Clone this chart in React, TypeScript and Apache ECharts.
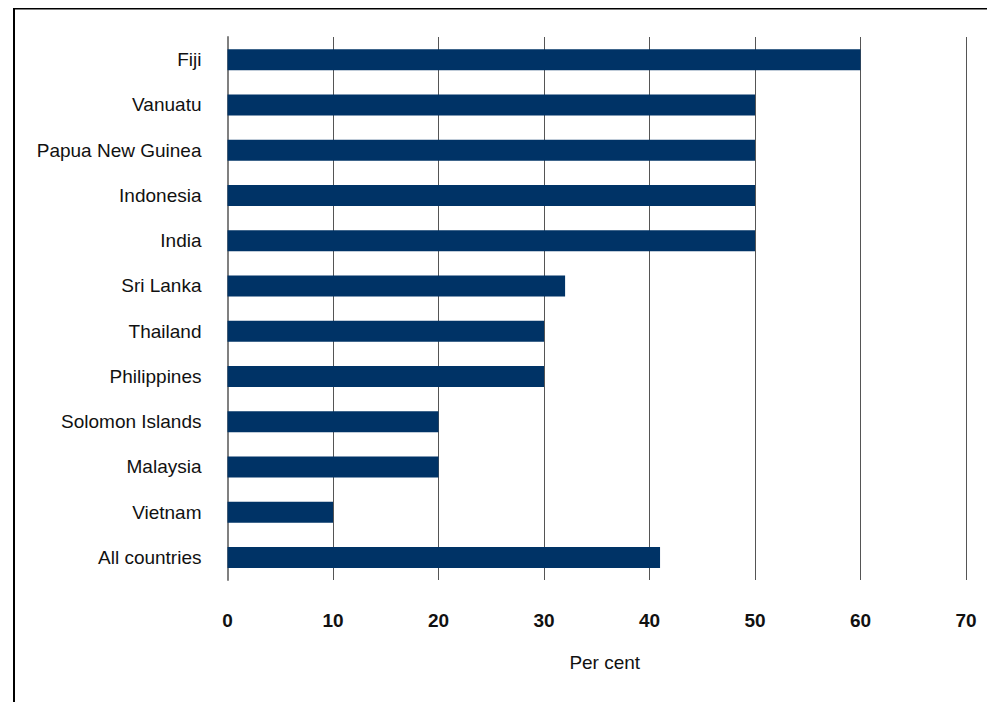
import React, { useEffect, useRef } from "react";
import * as echarts from "echarts";

const categories = [
  "Fiji",
  "Vanuatu",
  "Papua New Guinea",
  "Indonesia",
  "India",
  "Sri Lanka",
  "Thailand",
  "Philippines",
  "Solomon Islands",
  "Malaysia",
  "Vietnam",
  "All countries",
];
const values = [60, 50, 50, 50, 50, 32, 30, 30, 20, 20, 10, 41];
const xTicks = { min: 0, max: 70, interval: 10 };
const axisName = "Per cent";

const FONT = "'Liberation Sans Narrow', 'Arial Narrow', 'Liberation Sans', Arial, sans-serif";

export default function App() {
  const ref = useRef<HTMLDivElement>(null);
  useEffect(() => {
    if (!ref.current) return;
    const chart = echarts.init(ref.current, null, { renderer: "svg" });
    chart.setOption({
      animation: false,
      grid: { left: 219.5, right: 29, top: 29, bottom: 122, containLabel: false },
      xAxis: {
        type: "value",
        min: xTicks.min,
        max: xTicks.max,
        interval: xTicks.interval,
        position: "bottom",
        axisLine: { show: false },
        axisTick: { show: false },
        splitLine: { show: true, lineStyle: { color: "#555555", width: 1 } },
        axisLabel: {
          margin: 31,
          fontFamily: FONT,
          fontSize: 19,
          fontWeight: "bold",
          color: "#111",
        },
        name: axisName,
        nameLocation: "middle",
        nameGap: 73,
        nameTextStyle: { fontFamily: FONT, fontSize: 19, color: "#111", padding: [0, 0, 0, 16] },
      },
      yAxis: {
        type: "category",
        data: categories,
        inverse: true,
        axisLine: { show: true, lineStyle: { color: "#808080", width: 2 } },
        axisTick: { show: false },
        axisLabel: {
          margin: 26,
          fontFamily: FONT,
          fontSize: 19,
          color: "#111",
        },
      },
      series: [
        {
          type: "bar",
          data: values,
          barWidth: 21,
          itemStyle: { color: "#003366" },
        },
      ],
      graphic: [
        {
          type: "line",
          shape: { x1: 5, y1: 0.5, x2: 995, y2: 0.5 },
          style: { stroke: "#000", lineWidth: 2 },
        },
        {
          type: "line",
          shape: { x1: 6, y1: 0, x2: 6, y2: 702 },
          style: { stroke: "#000", lineWidth: 2 },
        },
      ],
    });
    return () => chart.dispose();
  }, []);
  return <div ref={ref} style={{ width: 987, height: 694 }} />;
}
